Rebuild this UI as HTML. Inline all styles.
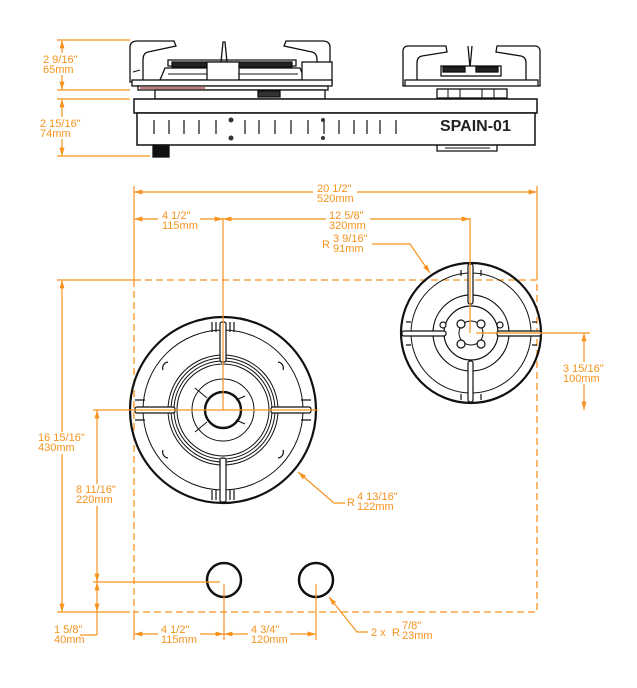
<!DOCTYPE html>
<html><head><meta charset="utf-8"><style>
html,body{margin:0;padding:0;background:#fff;}
svg{display:block;}
.o{stroke:#f7931e;fill:none;stroke-width:1.2}
.d{stroke:#f7931e;fill:none;stroke-width:1.3;stroke-dasharray:7 4}
.k{stroke:#111;fill:none}
text{font-family:"Liberation Sans",sans-serif;font-size:11px;fill:#f7931e}
.bg{fill:#fff;stroke:none}
</style></head><body>
<svg width="637" height="688" viewBox="0 0 637 688" xmlns="http://www.w3.org/2000/svg">
<defs>
<marker id="a" viewBox="0 0 10 10" refX="10" refY="5" markerWidth="7" markerHeight="7" orient="auto-start-reverse"><path d="M0,2 L10,5 L0,8z" fill="#f7931e"/></marker>
</defs>

<!-- ===== SIDE VIEW ===== -->
<g class="k" stroke-width="1.3">
<path d="M130,82 L130,46 Q131,41 137,41 L174,41 L176,46 L148,52 Q143,53 143,60 L143,80 Z" fill="#fff"/>
<path d="M330,82 L330,46 Q329,41 323,41 L286,41 L284,46 L312,52 Q317,53 317,60 L317,80 Z" fill="#fff"/>
<path d="M133,72 L140,70 M327,72 L320,70" stroke-width="1"/>
<path d="M168,60 L296,60 L296,66 L168,66 Z" fill="#fff"/>
<rect x="172" y="62" width="120" height="5" fill="#222"/>
<path d="M165,68 L300,68 L305,80 L160,80 Z" fill="#fff"/>
<path d="M168,74 L298,74" stroke-width="1"/>
<rect x="207" y="62" width="32" height="24" fill="#fff"/>
<path d="M221,62 L223,42 L225,42 L227,62"/>
<rect x="302" y="62" width="30" height="22" fill="#fff"/>
<rect x="132" y="80" width="200" height="6" fill="#fff"/>
<rect x="138" y="86" width="190" height="4" fill="#fff"/>
<line x1="140" y1="88" x2="205" y2="88" stroke="#c77" stroke-width="2"/>
<rect x="155" y="90" width="170" height="9" fill="#fff"/>
<rect x="258" y="91" width="22" height="6" fill="#333"/>
<path d="M403,86 L403,50 Q404,46 408,46 L446,46 L447,52 L422,56 Q417,57 417,63 L417,84 Z" fill="#fff"/>
<path d="M540,86 L540,50 Q539,46 535,46 L497,46 L496,52 L521,56 Q526,57 526,63 L526,84 Z" fill="#fff"/>
<path d="M468,46 L470,68 L472,46"/>
<rect x="441" y="66" width="60" height="10" fill="#fff"/>
<rect x="443" y="67" width="22" height="5" fill="#222"/>
<rect x="476" y="67" width="22" height="5" fill="#222"/>
<rect x="405" y="80" width="133" height="6" fill="#fff"/>
<rect x="437" y="89" width="70" height="9" fill="#fff"/>
<path d="M448,89v9M460,89v9M482,89v9M494,89v9" stroke-width="1"/>
<rect x="134" y="99" width="403" height="14" fill="#fff" stroke-width="1.5"/>
<rect x="137" y="113" width="398" height="32" fill="#fff" stroke-width="1.5"/>
<rect x="153" y="145" width="16" height="12" fill="#111"/>
<path d="M437,145 L437,151 L497,151 L497,145"/>
<path d="M445,148 L490,148" stroke-width="1"/>
</g>
<g stroke="#111" stroke-width="1.2">
<path d="M154,120v14M169,120v14M184,120v14M199,120v14M216,120v14M245,120v14M259,120v14M275,120v14M291,120v14M308,120v14M324,120v14M339,120v14M354,120v14M367,120v14M380,120v14M396,120v14"/>
</g>
<circle cx="231" cy="120" r="2.5" fill="#333"/><circle cx="231" cy="138" r="2.5" fill="#333"/>
<circle cx="323" cy="120" r="2" fill="#333"/><circle cx="323" cy="138" r="2" fill="#333"/>
<text x="440" y="131" style="font-size:16px;font-weight:bold;fill:#222">SPAIN-01</text>

<line class="o" x1="57" y1="40" x2="130" y2="40"/>
<line class="o" x1="57" y1="90" x2="130" y2="90"/>
<line class="o" x1="57" y1="99" x2="130" y2="99"/>
<line class="o" x1="57" y1="156" x2="150" y2="156"/>
<line class="o" x1="62" y1="40" x2="62" y2="90" marker-start="url(#a)" marker-end="url(#a)"/>
<line class="o" x1="62" y1="99" x2="62" y2="156" marker-start="url(#a)" marker-end="url(#a)"/>
<rect class="bg" x="40" y="53" width="40" height="22"/>
<text x="43" y="63">2 9/16"</text><text x="43" y="73">65mm</text>
<rect class="bg" x="38" y="117" width="44" height="22"/>
<text x="40" y="127">2 15/16"</text><text x="40" y="137">74mm</text>

<!-- ===== TOP VIEW ===== -->
<rect class="d" x="134" y="280" width="403" height="332"/>

<g class="k">
<circle cx="223" cy="410" r="93" stroke-width="2.2"/>
<circle cx="223" cy="410" r="80" stroke-width="1"/>
<circle cx="223" cy="410" r="55" stroke-width="1"/>
<circle cx="223" cy="410" r="52" stroke-width="1"/>
<circle cx="223" cy="410" r="49" stroke-width="1"/>
<circle cx="223" cy="410" r="46" stroke-width="1"/>
<circle cx="223" cy="410" r="31" stroke-width="1"/>
<circle cx="223" cy="410" r="18" stroke-width="2.4"/>
<path d="M207,398 L195,388 M207,422 L195,432 M236,400 L245,396 M236,420 L245,424" stroke-width="1"/>
</g>
<g fill="#fff" stroke="#111" stroke-width="1.2">
<rect x="220" y="322" width="6" height="40" rx="2"/>
<rect x="220" y="458" width="6" height="44" rx="2"/>
<rect x="135" y="407" width="40" height="6" rx="2"/>
<rect x="271" y="407" width="40" height="6" rx="2"/>
</g>
<g stroke="#111" stroke-width="1.2">
<path d="M212,322v10M216,322v10M230,322v10M234,322v10M212,490v10M216,490v10M230,490v10M234,490v10"/>
<path d="M135,400h10M135,420h10M301,400h10M301,420h10"/>
<path d="M168,362 a6,6 0 0 0 -5,8 M278,362 a6,6 0 0 1 5,8 M168,458 a6,6 0 0 1 -5,-8 M278,458 a6,6 0 0 0 5,-8" fill="none"/>
</g>

<g class="k">
<circle cx="471" cy="333" r="70" stroke-width="2.2"/>
<circle cx="471" cy="333" r="60" stroke-width="1"/>
<circle cx="471" cy="333" r="38" stroke-width="1.2"/>
<circle cx="471" cy="333" r="27" stroke-width="1.2"/>
<circle cx="471" cy="333" r="12" stroke-width="1"/>
</g>
<g fill="#fff" stroke="#111" stroke-width="1.2">
<circle cx="461" cy="324" r="4"/><circle cx="481" cy="324" r="4"/><circle cx="461" cy="344" r="4"/><circle cx="481" cy="344" r="4"/>
<circle cx="443" cy="325" r="3"/><circle cx="500" cy="325" r="3"/>
<rect x="468" y="264" width="5" height="40" rx="2"/>
<rect x="468" y="361" width="5" height="41" rx="2"/>
<rect x="402" y="331" width="44" height="5" rx="2"/>
<rect x="497" y="331" width="44" height="5" rx="2"/>
</g>
<g stroke="#111" stroke-width="1.2">
<path d="M461,270v6M481,270v6M461,394v6M481,394v6M406,322h5M406,345h5M532,322h5M532,345h5"/>
</g>

<circle cx="224" cy="580" r="17" fill="none" stroke="#111" stroke-width="2.5"/>
<circle cx="316" cy="580" r="17" fill="none" stroke="#111" stroke-width="2.5"/>

<line class="o" x1="223" y1="218" x2="223" y2="410"/>
<line class="o" x1="93" y1="410" x2="318" y2="410"/>
<line class="o" x1="470" y1="218" x2="470" y2="333"/>
<line class="o" x1="476" y1="333" x2="590" y2="333"/>
<line class="o" x1="93" y1="582" x2="220" y2="582"/>
<line class="o" x1="224" y1="584" x2="224" y2="640"/>
<line class="o" x1="316" y1="584" x2="316" y2="640"/>

<line class="o" x1="134" y1="186" x2="134" y2="280"/>
<line class="o" x1="537" y1="186" x2="537" y2="280"/>
<line class="o" x1="134" y1="192" x2="537" y2="192" marker-start="url(#a)" marker-end="url(#a)"/>
<rect class="bg" x="313" y="183" width="44" height="22"/>
<text x="317" y="192">20 1/2"</text><text x="317" y="202">520mm</text>
<line class="o" x1="134" y1="219" x2="223" y2="219" marker-start="url(#a)" marker-end="url(#a)"/>
<rect class="bg" x="158" y="210" width="42" height="22"/>
<text x="162" y="219">4 1/2"</text><text x="162" y="229">115mm</text>
<line class="o" x1="223" y1="219" x2="470" y2="219" marker-start="url(#a)" marker-end="url(#a)"/>
<rect class="bg" x="326" y="210" width="44" height="22"/>
<text x="329" y="219">12 5/8"</text><text x="329" y="229">320mm</text>

<polyline class="o" points="372,244 410,244 430,273" marker-end="url(#a)"/>
<text x="322" y="248">R</text><text x="333" y="242">3 9/16"</text><text x="333" y="252">91mm</text>

<line class="o" x1="584" y1="333" x2="584" y2="410" marker-start="url(#a)" marker-end="url(#a)"/>
<rect class="bg" x="560" y="362" width="50" height="22"/>
<text x="563" y="372">3 15/16"</text><text x="563" y="382">100mm</text>

<polyline class="o" points="345,503 334,503 298,472" marker-end="url(#a)"/>
<text x="347" y="506">R</text><text x="357" y="500">4 13/16"</text><text x="357" y="510">122mm</text>

<line class="o" x1="57" y1="280" x2="134" y2="280"/>
<line class="o" x1="57" y1="612" x2="130" y2="612"/>
<line class="o" x1="62" y1="280" x2="62" y2="612" marker-start="url(#a)" marker-end="url(#a)"/>
<rect class="bg" x="36" y="432" width="52" height="22"/>
<text x="38" y="441">16 15/16"</text><text x="38" y="451">430mm</text>
<line class="o" x1="97" y1="410" x2="97" y2="582" marker-start="url(#a)" marker-end="url(#a)"/>
<rect class="bg" x="74" y="484" width="48" height="22"/>
<text x="76" y="493">8 11/16"</text><text x="76" y="503">220mm</text>
<line class="o" x1="97" y1="582" x2="97" y2="612" marker-start="url(#a)" marker-end="url(#a)"/>
<line class="o" x1="97" y1="612" x2="97" y2="635"/>
<line class="o" x1="80" y1="635" x2="97" y2="635"/>
<text x="54" y="633">1 5/8"</text><text x="54" y="643">40mm</text>

<line class="o" x1="134" y1="612" x2="134" y2="640"/>
<line class="o" x1="134" y1="634" x2="224" y2="634" marker-start="url(#a)" marker-end="url(#a)"/>
<rect class="bg" x="158" y="625" width="42" height="22"/>
<text x="161" y="633">4 1/2"</text><text x="161" y="643">115mm</text>
<line class="o" x1="224" y1="634" x2="316" y2="634" marker-start="url(#a)" marker-end="url(#a)"/>
<rect class="bg" x="248" y="625" width="42" height="22"/>
<text x="251" y="633">4 3/4"</text><text x="251" y="643">120mm</text>

<polyline class="o" points="368,632 357,632 329,597" marker-end="url(#a)"/>
<text x="371" y="636">2 x</text><text x="392" y="636">R</text><text x="402" y="629">7/8"</text><text x="402" y="639">23mm</text>
</svg>
</body></html>
